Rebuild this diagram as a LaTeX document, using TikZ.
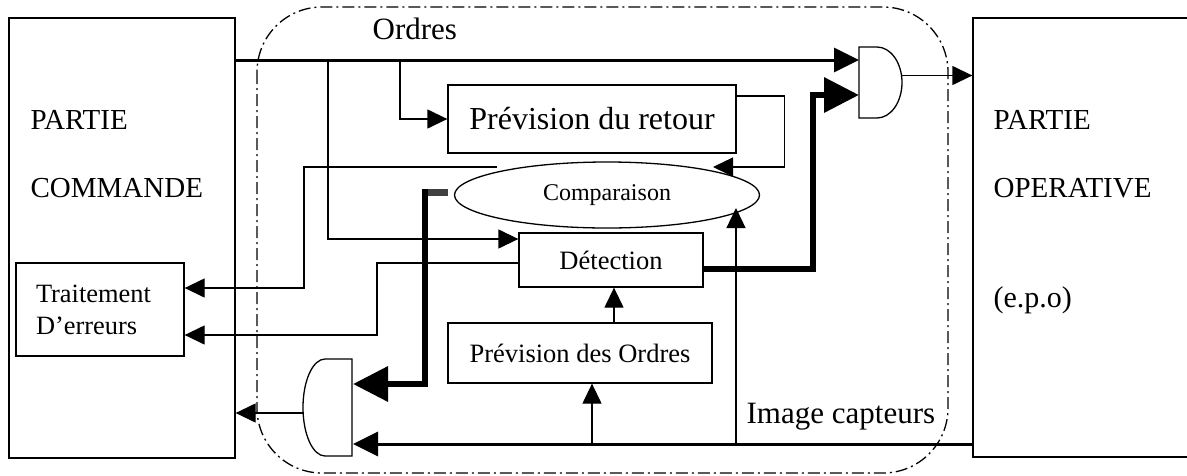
\documentclass[tikz,border=0pt]{standalone}
\usepackage{fontspec}
\setmainfont{Liberation Serif}
\usetikzlibrary{arrows.meta,shapes.geometric}

\begin{document}
\begin{tikzpicture}[x=1pt,y=-1pt,line width=1.3pt,
  box/.style={draw,inner sep=0pt},
  txt/.style={anchor=base west,inner sep=0pt,font=\fontsize{29}{35}\selectfont},
  sm/.style={-{Triangle[length=20pt,width=19pt]}},
  md/.style={line width=3pt,-{Triangle[length=25pt,width=24pt]}},
  bg/.style={line width=6.5pt,-{Triangle[length=35pt,width=34pt]}},
  frontier/.style={dash pattern=on 12pt off 4pt on 2pt off 4pt,rounded corners=65pt}]
  \useasboundingbox (0,0) rectangle (1187,475);

  % les deux parties
  \node[box,minimum width=226pt,minimum height=440pt] (pc) at (122,238) {};
  \node[txt] (pc1) at (30,129) {PARTIE};
  \node[txt] (pc2) at (30,197) {COMMANDE};
  \node[box,minimum width=230pt,minimum height=439pt] (po) at (1088,237.5) {};
  \node[txt] (po1) at (993,129) {PARTIE};
  \node[txt] (po2) at (993,197) {OPERATIVE};
  \node[txt,font=\fontsize{30}{36}\selectfont] (po3) at (993,307) {(e.p.o)};
  \node[box,minimum width=168pt,minimum height=93pt,text width=128pt,align=left,
    font=\fontsize{26.4}{32}\selectfont] (trait) at (100,309.5) {Traitement\\D’erreurs};

  % blocs du milieu
  \node[box,minimum width=288pt,minimum height=68pt,font=\fontsize{32}{38}\selectfont] (retour) at (592,119) {Prévision du retour};
  \node[draw,ellipse,inner sep=0pt,minimum width=305pt,minimum height=66pt,
    font=\fontsize{24}{29}\selectfont] (comp) at (607,195) {Comparaison};
  \node[box,minimum width=184pt,minimum height=54pt,font=\fontsize{26.5}{32}\selectfont] (detect) at (611,260) {Détection};
  \node[box,minimum width=264pt,minimum height=60pt,font=\fontsize{26.5}{32}\selectfont] (prevord) at (580,353) {Prévision des Ordres};

  % portes
  \draw (859,47) -- (877,47) .. controls (890.8,47) and (902,62.9) .. (902,82.5)
    .. controls (902,102.1) and (890.8,118) .. (877,118) -- (859,118) -- cycle;
  \draw (352,359) -- (325,359) .. controls (312.8,359) and (303,380.7) .. (303,407.5)
    .. controls (303,434.3) and (312.8,456) .. (325,456) -- (352,456) -- cycle;
  \coordinate (gRa) at (859,60);
  \coordinate (gRb) at (859,95);
  \coordinate (gRo) at (901,75.5);
  \coordinate (gLa) at (353,384);
  \coordinate (gLb) at (353,444);
  \coordinate (gLo) at (303.5,413);

  \draw[frontier] (257,7) rectangle (948,473);

  % liaisons
  \coordinate (o1) at (400,60);
  \coordinate (o2) at (328,60);
  \coordinate (cmpIn) at (713,167);
  \coordinate (cmpOut) at (497,167);
  \coordinate (cmpL) at (448,192);
  \coordinate (cmpB) at (736,208);
  \coordinate (ic1) at (592,444);
  \coordinate (ic2) at (736,444);
  \node[txt,font=\fontsize{31}{37}\selectfont] (ordres) at (372,39) {Ordres};
  \node[txt,font=\fontsize{31}{37}\selectfont] (capt) at (746,423) {Image capteurs};
  \draw[md] (pc.east |- o1) -- (gRa);
  \draw[sm] (o1) |- (retour.west);
  \draw[sm] (o2) |- ([yshift=21pt]detect.west);
  \draw[sm] ([yshift=23pt]retour.east) -- ++(48,0) |- (cmpIn);
  \draw[sm] (cmpOut) -- (304,167) |- ([yshift=21.5pt]trait.east);
  \draw[sm] ([yshift=-3pt]detect.west) -- (377,263) |- ([yshift=-25.5pt]trait.east);
  \draw[bg] ([yshift=-9pt]detect.east) -| (813,95) -- (gRb);
  \draw[sm] (gRo) -- (gRo -| po.west);
  \draw[line width=7pt,black!75] (cmpL) -- ++(-25,0);
  \draw[bg] (425,189) |- (gLa);
  \draw[md] (po.west |- gLb) -- (gLb);
  \draw[sm] (ic1) -- ([xshift=12pt]prevord.south);
  \draw[sm] ([xshift=34pt]prevord.north) -- ([xshift=34pt]prevord.north |- detect.south);
  \draw[sm] (ic2) -- (cmpB);
  \draw[sm] (gLo) -- (gLo -| pc.east);
\end{tikzpicture}
\end{document}
